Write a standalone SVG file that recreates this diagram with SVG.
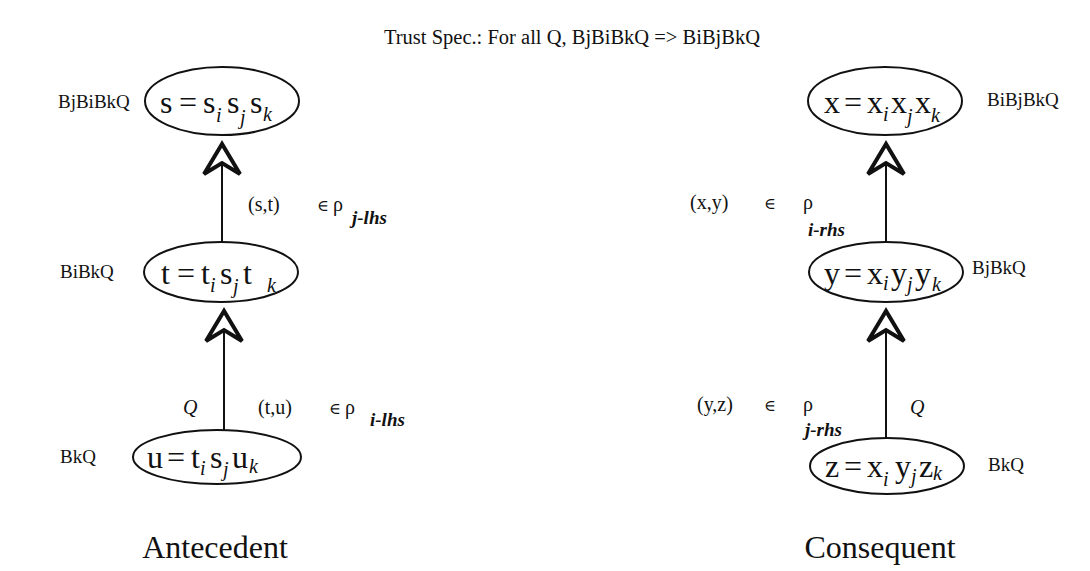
<svg xmlns="http://www.w3.org/2000/svg" width="1090" height="571" viewBox="0 0 1090 571">
  <style>
    text { font-family: "Liberation Serif", "Times New Roman", serif; fill: #111; }
    .title { font-size: 20.5px; }
    .node { font-size: 32px; }
    .sub { font-size: 20px; font-style: italic; }
    .side { font-size: 19px; }
    .lab { font-size: 20px; }
    .elem { font-size: 16px; font-family: "DejaVu Serif", serif; }
    .rel { font-size: 19px; font-style: italic; font-weight: bold; }
    .q { font-size: 20px; font-style: italic; }
    .caption { font-size: 32px; }
    ellipse { fill: #fff; stroke: #111; stroke-width: 2; }
    .edge { fill: none; stroke: #111; stroke-width: 2; }
  </style>
  <defs>
    <marker id="openHead" markerUnits="userSpaceOnUse" markerWidth="60" markerHeight="60" refX="0" refY="0" orient="auto" overflow="visible">
      <path d="M0,0 L-30,-18 L-19,0 L-30,18 Z" fill="#fff" stroke="#111" stroke-width="4" stroke-linejoin="miter"/>
    </marker>
  </defs>

  <text class="title" x="572" y="44" text-anchor="middle">Trust Spec.: For all Q, BjBiBkQ =&gt; BiBjBkQ</text>

  <!-- connectors: refinement steps pointing upward -->
  <g id="connectors">
    <path class="edge" d="M222 243 V144" marker-end="url(#openHead)"/>
    <path class="edge" d="M224 432 V311" marker-end="url(#openHead)"/>
    <path class="edge" d="M886 243 V144" marker-end="url(#openHead)"/>
    <path class="edge" d="M886 439 V311" marker-end="url(#openHead)"/>

    <text class="lab" x="248" y="211">(s,t)</text>
    <text class="elem" x="317" y="211">∈</text>
    <text class="lab" x="333" y="211">ρ</text>
    <text class="rel" x="352" y="224">j-lhs</text>

    <text class="q" x="183" y="414">Q</text>
    <text class="lab" x="258" y="414">(t,u)</text>
    <text class="elem" x="329" y="414">∈</text>
    <text class="lab" x="345" y="414">ρ</text>
    <text class="rel" x="370" y="426">i-lhs</text>

    <text class="lab" x="690" y="209">(x,y)</text>
    <text class="elem" x="764" y="209">∈</text>
    <text class="lab" x="803" y="209">ρ</text>
    <text class="rel" x="808" y="236">i-rhs</text>

    <text class="lab" x="697" y="411">(y,z)</text>
    <text class="elem" x="764" y="411">∈</text>
    <text class="lab" x="803" y="411">ρ</text>
    <text class="rel" x="805" y="436">j-rhs</text>
    <text class="q" x="910" y="414">Q</text>
  </g>

  <!-- antecedent chain -->
  <g id="node-s">
    <ellipse cx="222" cy="101" rx="77" ry="34"/>
    <text class="node"><tspan x="160" y="113">s</tspan><tspan x="179">=</tspan><tspan x="203">s</tspan><tspan class="sub" x="216" y="122">i</tspan><tspan x="227" y="113">s</tspan><tspan class="sub" x="240" y="124">j</tspan><tspan x="250" y="113">s</tspan><tspan class="sub" x="263" y="121">k</tspan></text>
    <text class="side" x="58" y="108">BjBiBkQ</text>
  </g>
  <g id="node-t">
    <ellipse cx="221" cy="272" rx="77" ry="30"/>
    <text class="node"><tspan x="161" y="284">t</tspan><tspan x="177">=</tspan><tspan x="201">t</tspan><tspan class="sub" x="210" y="292">i</tspan><tspan x="220" y="284">s</tspan><tspan class="sub" x="233" y="293">j</tspan><tspan x="243" y="284">t</tspan><tspan class="sub" x="267" y="292">k</tspan></text>
    <text class="side" x="60" y="278">BiBkQ</text>
  </g>
  <g id="node-u">
    <ellipse cx="217" cy="457" rx="84" ry="27"/>
    <text class="node"><tspan x="147" y="468">u</tspan><tspan x="167">=</tspan><tspan x="191">t</tspan><tspan class="sub" x="200" y="475">i</tspan><tspan x="210" y="468">s</tspan><tspan class="sub" x="223" y="476">j</tspan><tspan x="232" y="468">u</tspan><tspan class="sub" x="249" y="473">k</tspan></text>
    <text class="side" x="60" y="463">BkQ</text>
  </g>

  <!-- consequent chain -->
  <g id="node-x">
    <ellipse cx="885" cy="101" rx="77" ry="34"/>
    <text class="node"><tspan x="824" y="113">x</tspan><tspan x="844">=</tspan><tspan x="867">x</tspan><tspan class="sub" x="883" y="121">i</tspan><tspan x="891" y="113">x</tspan><tspan class="sub" x="907" y="123">j</tspan><tspan x="915" y="113">x</tspan><tspan class="sub" x="931" y="122">k</tspan></text>
    <text class="side" x="987" y="106">BiBjBkQ</text>
  </g>
  <g id="node-y">
    <ellipse cx="886" cy="272" rx="77" ry="30"/>
    <text class="node"><tspan x="824" y="284">y</tspan><tspan x="844">=</tspan><tspan x="867">x</tspan><tspan class="sub" x="883" y="290">i</tspan><tspan x="891" y="284">y</tspan><tspan class="sub" x="907" y="291">j</tspan><tspan x="915" y="284">y</tspan><tspan class="sub" x="932" y="291">k</tspan></text>
    <text class="side" x="972" y="274">BjBkQ</text>
  </g>
  <g id="node-z">
    <ellipse cx="887" cy="466" rx="77" ry="28"/>
    <text class="node"><tspan x="825" y="477">z</tspan><tspan x="844">=</tspan><tspan x="867">x</tspan><tspan class="sub" x="883" y="486">i</tspan><tspan x="895" y="477">y</tspan><tspan class="sub" x="911" y="483">j</tspan><tspan x="919" y="477">z</tspan><tspan class="sub" x="933" y="480">k</tspan></text>
    <text class="side" x="988" y="471">BkQ</text>
  </g>

  <text class="caption" x="215" y="558" text-anchor="middle">Antecedent</text>
  <text class="caption" x="880" y="558" text-anchor="middle">Consequent</text>
</svg>
